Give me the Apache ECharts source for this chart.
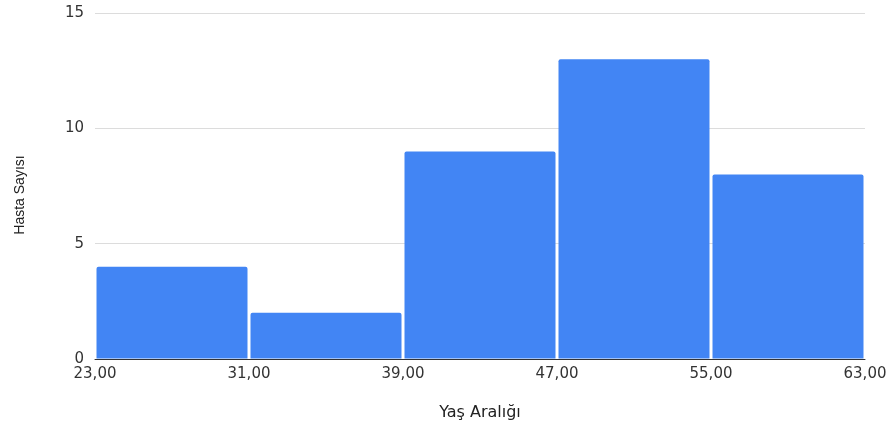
<!DOCTYPE html>
<html>
<head>
<meta charset="utf-8">
<script src="https://cdn.jsdelivr.net/npm/echarts@6/dist/echarts.min.js"></script>
<style>
  html, body { margin: 0; padding: 0; background: #fff; }
  #chart { width: 891px; height: 425px; }
</style>
</head>
<body>
<div id="chart"></div>
<script>
// Age bins (lower/upper edges) and patient counts per bin
const binStarts = [23, 31, 39, 47, 55];
const binEnds = [31, 39, 47, 55, 63];
const counts = [4, 2, 9, 13, 8];
const xTitle = 'Yaş Aralığı';
const yTitle = 'Hasta Sayısı';

const data = binStarts.map((s, i) => [s, binEnds[i], counts[i]]);

const chart = echarts.init(document.getElementById('chart'), null, { renderer: 'canvas' });
const wideFont = '"DejaVu Sans", sans-serif';
const narrowFont = '"Liberation Sans", Arial, Helvetica, sans-serif';

chart.setOption({
  animation: false,
  grid: { left: 95, right: 26, top: 13, bottom: 66, outerBoundsMode: 'none', containLabel: false },
  xAxis: {
    type: 'value',
    min: 23, max: 63, interval: 8,
    name: xTitle,
    nameLocation: 'middle',
    nameGap: 46,
    nameTextStyle: { color: '#222', fontSize: 16, fontFamily: wideFont },
    axisLine: { show: true, lineStyle: { color: '#333', width: 1 } },
    axisTick: { show: false },
    splitLine: { show: false },
    axisLabel: {
      color: '#333', fontSize: 15, fontFamily: wideFont, margin: 8,
      formatter: v => v.toFixed(2).replace('.', ',')
    }
  },
  yAxis: {
    type: 'value',
    min: 0, max: 15, interval: 5,
    name: yTitle,
    nameLocation: 'middle',
    nameGap: 68,
    nameTextStyle: { color: '#222', fontSize: 14, fontFamily: narrowFont, padding: [0, 18, 0, 0] },
    axisLine: { show: false },
    axisTick: { show: false },
    splitLine: { show: true, lineStyle: { color: '#dcdcdc', width: 1 } },
    axisLabel: { color: '#333', fontSize: 15, fontFamily: wideFont, margin: 11 }
  },
  series: [{
    type: 'custom',
    data: data,
    encode: { x: [0, 1], y: 2 },
    renderItem: function (params, api) {
      const p0 = api.coord([api.value(0), api.value(2)]);
      const p1 = api.coord([api.value(1), 0]);
      const gap = 1.5;
      return {
        type: 'rect',
        shape: {
          x: p0[0] + gap,
          y: p0[1],
          width: p1[0] - p0[0] - gap * 2,
          height: p1[1] - p0[1] - 0.5,
          r: [2, 2, 0, 0]
        },
        style: { fill: '#4285f4' }
      };
    }
  }]
});
</script>
</body>
</html>
